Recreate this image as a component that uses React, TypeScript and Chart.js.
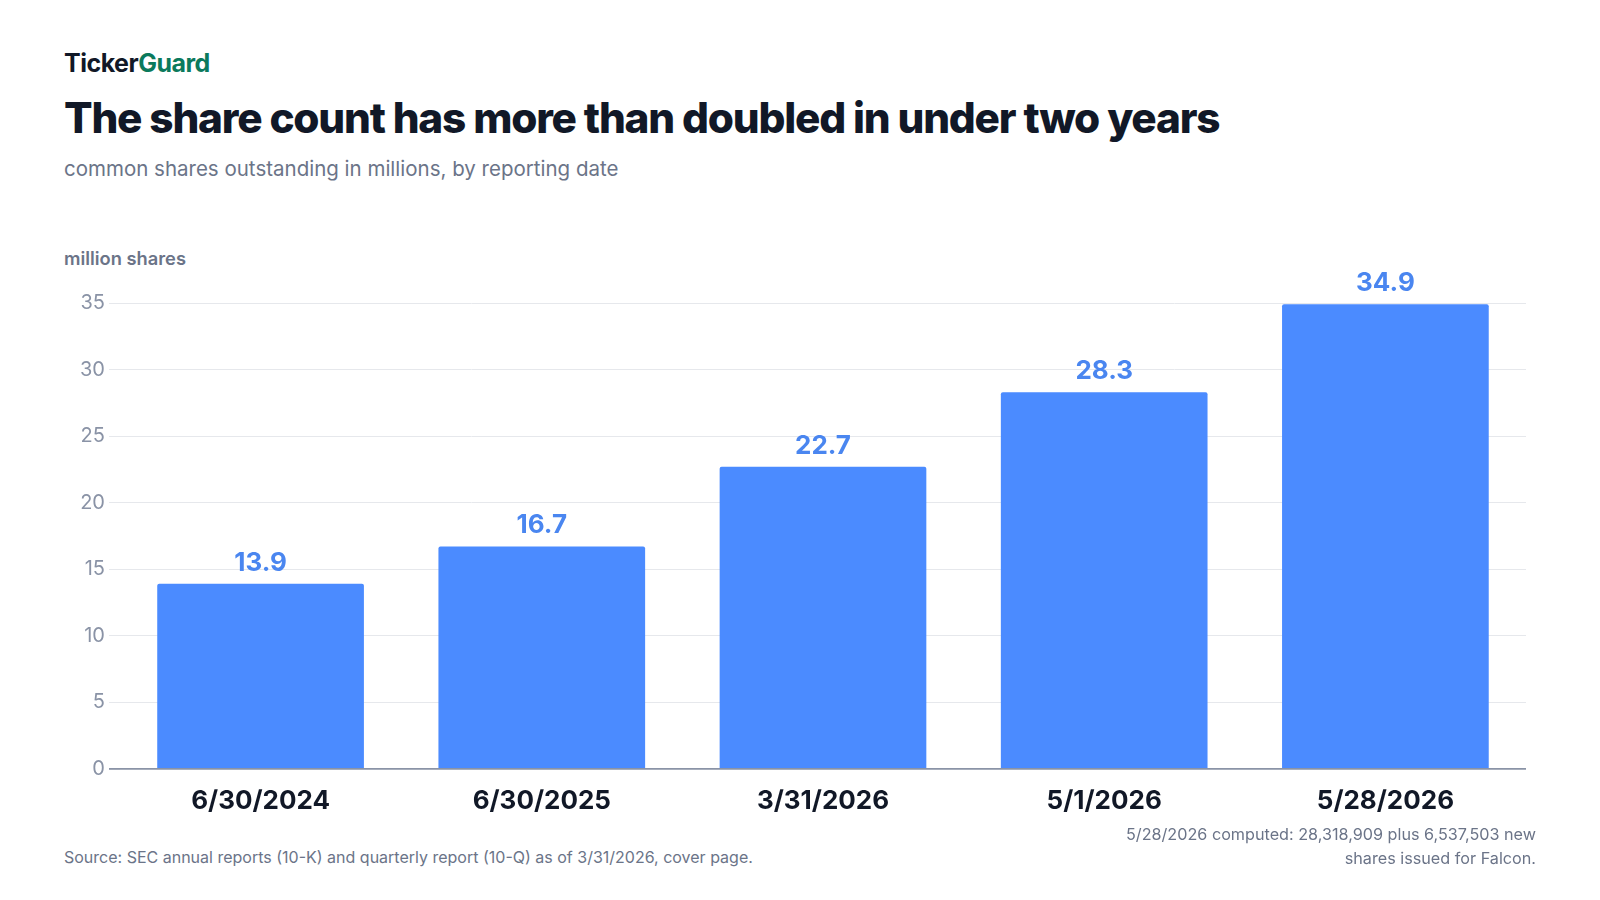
import React, { useEffect, useRef } from "react";
import { Chart, registerables } from "chart.js";
Chart.register(...registerables);

const categories = ["6/30/2024", "6/30/2025", "3/31/2026", "5/1/2026", "5/28/2026"];
const shares = [13.9, 16.7, 22.7, 28.3, 34.9];
const yTicks = [0, 5, 10, 15, 20, 25, 30, 35];

const FONT = "Inter, 'Noto Sans', sans-serif";

export default function App() {
  const ref = useRef<HTMLCanvasElement>(null);
  useEffect(() => {
    document.body.style.margin = "0";
    const labelPlugin = {
      id: "vals",
      afterDatasetsDraw(chart: any) {
        const ctx = chart.ctx;
        const meta = chart.getDatasetMeta(0);
        ctx.save();
        ctx.font = `bold 26px ${FONT}`;
        ctx.fillStyle = "#4a86f0";
        ctx.textAlign = "center";
        ctx.textBaseline = "bottom";
        meta.data.forEach((el: any, i: number) => {
          ctx.fillText(shares[i].toFixed(1), el.x, el.y - 8);
        });
        ctx.restore();
      },
    };
    const chart = new Chart(ref.current!, {
      type: "bar",
      data: {
        labels: categories,
        datasets: [{ data: shares, backgroundColor: "#4b8bff", borderRadius: 2, categoryPercentage: 1, barPercentage: 0.735 }],
      },
      options: {
        animation: false,
        responsive: false,
        maintainAspectRatio: false,
        layout: { padding: { top: 93, right: 74, left: 76 } },
        plugins: { legend: { display: false }, tooltip: { enabled: false } },
        scales: {
          x: {
            grid: { display: false },
            border: { display: false },
            ticks: { color: "#111827", font: { family: FONT, size: 26, weight: "bold" }, padding: 9 },
          },
          y: {
            min: 0,
            max: 35,
            afterBuildTicks: (s: any) => { s.ticks = yTicks.map((v) => ({ value: v })); },
            grid: {
              color: (c: any) => (c.tick && c.tick.value === 0 ? "#8a93a6" : "#e6e8ec"),
              lineWidth: (c: any) => (c.tick && c.tick.value === 0 ? 1.8 : 1),
              drawTicks: true,
              tickLength: 11,
            },
            border: { display: false },
            ticks: { color: "#8a93a6", font: { family: FONT, size: 20 }, padding: 4 },
          },
        },
      },
      plugins: [labelPlugin],
    });
    return () => chart.destroy();
  }, []);
  return (
    <div style={{ position: "relative", width: 1600, height: 900, background: "#fff", fontFamily: FONT, overflow: "hidden" }}>
      <div style={{ position: "absolute", left: 64, top: 48, fontSize: 25, fontWeight: 700, color: "#111827", letterSpacing: -0.5 }}>
        Ticker<span style={{ color: "#0b7a5c" }}>Guard</span>
      </div>
      <div style={{ position: "absolute", left: 64, top: 92, fontSize: 42.3, fontWeight: 800, color: "#111827", letterSpacing: -1.2 }}>
        The share count has more than doubled in under two years
      </div>
      <div style={{ position: "absolute", left: 64, top: 156, fontSize: 20.5, color: "#6b7488" }}>
        common shares outstanding in millions, by reporting date
      </div>
      <div style={{ position: "absolute", left: 64, top: 247, fontSize: 18.3, fontWeight: 600, color: "#6b7488" }}>
        million shares
      </div>
      <canvas ref={ref} width={1600} height={616} style={{ position: "absolute", left: 0, top: 210, width: 1600, height: 616 }} />
      <div style={{ position: "absolute", left: 64, top: 847, fontSize: 16, color: "#6b7488" }}>
        Source: SEC annual reports (10-K) and quarterly report (10-Q) as of 3/31/2026, cover page.
      </div>
      <div style={{ position: "absolute", right: 64, top: 822, fontSize: 16.2, color: "#6b7488", textAlign: "right", lineHeight: "24px" }}>
        5/28/2026 computed: 28,318,909 plus 6,537,503 new<br />shares issued for Falcon.
      </div>
    </div>
  );
}
